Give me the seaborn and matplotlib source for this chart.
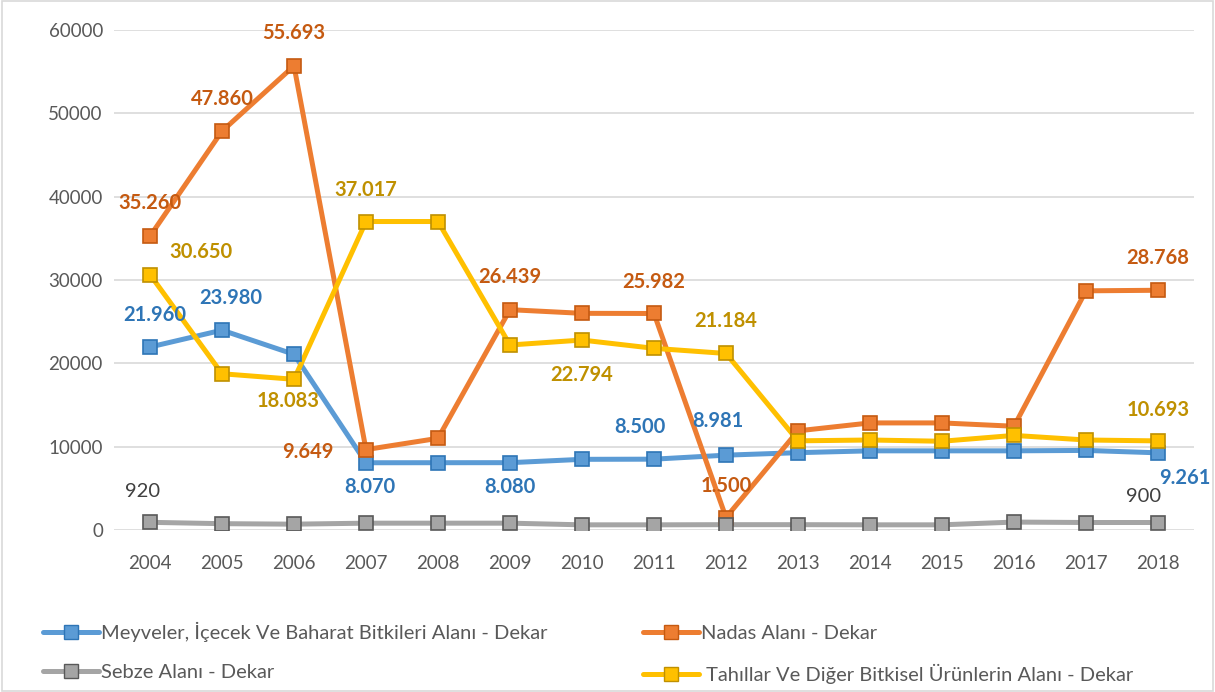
import pandas as pd
import matplotlib.pyplot as plt
import seaborn as sns
from matplotlib.lines import Line2D
from matplotlib.patches import Rectangle

years = list(range(2004, 2019))
meyve = [21960, 23980, 21080, 8070, 8075, 8080, 8480, 8500, 8981, 9280, 9500, 9500, 9500, 9550, 9261]
nadas = [35260, 47860, 55693, 9649, 11000, 26439, 26000, 25982, 1500, 11900, 12850, 12850, 12450, 28700, 28768]
sebze = [920, 760, 700, 820, 820, 820, 620, 620, 640, 640, 620, 620, 950, 900, 900]
tahil = [30650, 18750, 18083, 37017, 37017, 22200, 22794, 21800, 21184, 10700, 10800, 10650, 11350, 10800, 10693]

names = ["Meyveler, İçecek Ve Baharat Bitkileri Alanı - Dekar",
         "Nadas Alanı - Dekar",
         "Sebze Alanı - Dekar",
         " Tahıllar Ve Diğer Bitkisel Ürünlerin Alanı - Dekar"]
line_colors = ["#5B9BD5", "#ED7D31", "#A5A5A5", "#FFC000"]
edge_colors = ["#2E75B6", "#C55A11", "#595959", "#BF9000"]
label_colors = ["#2E75B6", "#C55A11", "#404040", "#BF9000"]

# which points get a value label: (series index, year, offset in pixels)
labels = [
    (0, 2004, (5, 32)), (0, 2005, (9, 32)), (0, 2007, (4, -24)), (0, 2009, (0, -24)),
    (0, 2011, (-14, 32)), (0, 2012, (-8, 34)), (0, 2018, (27, -25)),
    (1, 2004, (0, 33)), (1, 2005, (0, 32)), (1, 2006, (0, 33)), (1, 2007, (-58, -2)),
    (1, 2009, (0, 33)), (1, 2011, (0, 31)), (1, 2012, (0, 31)), (1, 2018, (0, 32)),
    (3, 2004, (51, 23)), (3, 2006, (-6, -22)), (3, 2007, (0, 32)), (3, 2010, (0, -35)),
    (3, 2012, (0, 32)), (3, 2018, (0, 31)),
    (2, 2004, (-7, 31)), (2, 2018, (-14, 26)),
]

series = [meyve, nadas, sebze, tahil]
df = pd.concat([pd.DataFrame({"Yil": years, "Deger": v, "Seri": n}) for v, n in zip(series, names)])

sns.set_style("white")
plt.rcParams["font.family"] = ["Lato", "DejaVu Sans"]

fig = plt.figure(figsize=(12.15, 6.92), dpi=100)
ax = fig.add_axes([114 / 1215, 1 - 530 / 692, 1080 / 1215, 500 / 692])

sns.lineplot(data=df, x="Yil", y="Deger", hue="Seri", palette=line_colors,
             linewidth=3.6, ax=ax, legend=False, zorder=3)

for i, v in enumerate(series):
    ax.plot(years, v, linestyle="none", marker="s", markersize=9.5,
            markerfacecolor=line_colors[i], markeredgecolor=edge_colors[i],
            markeredgewidth=1.2, zorder=4)

for i, yr, off in labels:
    val = series[i][years.index(yr)]
    txt = f"{val:,}".replace(",", ".")
    ax.annotate(txt, (yr, val), xytext=off, textcoords="offset pixels",
                ha="center", va="center", fontsize=14.5,
                fontweight="normal" if i == 2 else "bold",
                color=label_colors[i], zorder=5)

ax.set_xlim(2003.5, 2018.5)
ax.set_ylim(0, 60000)
ax.set_xticks(years)
ax.set_yticks(range(0, 60001, 10000))
ax.yaxis.grid(True, color="#D9D9D9", linewidth=1.2)
ax.set_axisbelow(True)
for s in ax.spines.values():
    s.set_visible(False)
ax.tick_params(axis="both", length=0, labelsize=13.5, colors="#595959")
ax.tick_params(axis="x", pad=18)
ax.tick_params(axis="y", pad=8)
ax.set_xlabel("")
ax.set_ylabel("")

handles = []
for i in [0, 2, 1, 3]:
    handles.append(Line2D([0], [0], color=line_colors[i], linewidth=3.6, marker="s",
                          markersize=9.5, markerfacecolor=line_colors[i],
                          markeredgecolor=edge_colors[i]))
fig.legend(handles, [names[i] for i in [0, 2, 1, 3]], ncol=2, loc="upper left",
           bbox_to_anchor=(43 / 1215, 1 - 622 / 692), frameon=False, fontsize=14.5,
           labelcolor="#595959", handlelength=2.8, handletextpad=0.1, borderpad=0,
           borderaxespad=0, columnspacing=4.7, labelspacing=1.1)

fig.add_artist(Rectangle((0.002, 0.002), 0.996, 0.996, transform=fig.transFigure,
                         fill=False, edgecolor="#D9D9D9", linewidth=1.2))

fig.savefig("out.png", dpi=100)
